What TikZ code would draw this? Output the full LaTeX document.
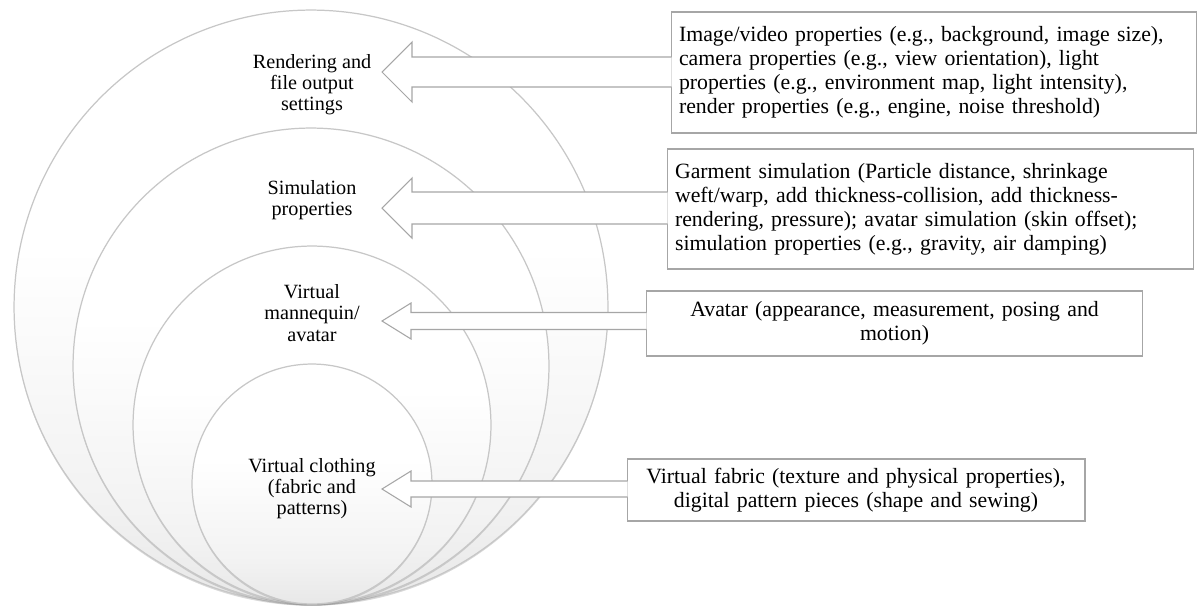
\documentclass[tikz,border=0pt]{standalone}
\usepackage{fontspec}
\setmainfont{Liberation Serif}
\usetikzlibrary{calc,shadows}

\pgfdeclareverticalshading{layershade}{100bp}{color(0bp)=(black!26); color(14bp)=(black!14); color(34bp)=(black!5); color(55bp)=(white); color(100bp)=(white)}

\tikzset{
  layer/.style={draw=black!22, line width=0.7pt, shading=layershade,
    drop shadow={shadow xshift=0pt, shadow yshift=-1pt, opacity=0.3}},
  lbl/.style={align=center, inner sep=0pt, font=\fontsize{11.5}{12}\selectfont},
  infobox/.style={draw=black!35, line width=0.6pt, fill=white, inner sep=0pt, font=\fontsize{12.4}{13.6}\selectfont},
  barrow/.style={draw=black!35, line width=0.6pt, fill=white, line join=miter}
}

\begin{document}
\begin{tikzpicture}[x=0.02cm, y=-0.02cm]
    \useasboundingbox (0,0) rectangle (1199,610);
    % nested layers
    \draw[layer] (311,307) circle (5.94cm);
    \draw[layer] (311,366) circle (4.76cm);
    \draw[layer] (312,425) circle (3.58cm);
    \draw[layer] (312,484) circle (2.40cm);
    \node[lbl] (l1) at (312,85) {Rendering and\\file output\\settings};
    \node[lbl] (l2) at (312,200) {Simulation\\properties};
    \node[lbl] (l3) at (312,313) {Virtual\\mannequin/\\avatar};
    \node[lbl] (l4) at (312,489) {Virtual clothing\\(fabric and\\patterns)};
    % descriptions
    \node[infobox, minimum width=10.52cm, minimum height=2.42cm, text width=10.2cm, align=left] (b1) at (934,72.5)
      {Image/video properties (e.g., background, image size),\\camera properties (e.g., view orientation), light\\properties (e.g., environment map, light intensity),\\render properties (e.g., engine, noise threshold)};
    \node[infobox, minimum width=10.54cm, minimum height=2.40cm, text width=10.22cm, align=left] (b2) at (930.5,209)
      {Garment simulation (Particle distance, shrinkage\\weft/warp, add thickness-collision, add thickness-\\rendering, pressure); avatar simulation (skin offset);\\simulation properties (e.g., gravity, air damping)};
    \node[infobox, minimum width=9.94cm, minimum height=1.30cm, text width=9.6cm, align=center] (b3) at (894.5,323.5)
      {Avatar (appearance, measurement, posing and\\motion)};
    \node[infobox, minimum width=9.16cm, minimum height=1.24cm, text width=8.9cm, align=center] (b4) at (856,490)
      {Virtual fabric (texture and physical properties),\\digital pattern pieces (shape and sewing)};
    % block arrows
    \coordinate (t1) at (382,72);
    \coordinate (t2) at (382,208);
    \coordinate (t3) at (382,321);
    \coordinate (t4) at (382,489);
    \draw[barrow] ($(t1 -| b1.west)+(1,-15)$) -| ($(t1)+(30,-30)$) -- (t1) -- ($(t1)+(30,30)$) |- ($(t1 -| b1.west)+(1,15)$);
    \draw[barrow] ($(t2 -| b2.west)+(1,-16)$) -| ($(t2)+(30,-30)$) -- (t2) -- ($(t2)+(30,30)$) |- ($(t2 -| b2.west)+(1,16)$);
    \draw[barrow] ($(t3 -| b3.west)+(1,-8.5)$) -| ($(t3)+(29,-18)$) -- (t3) -- ($(t3)+(29,18)$) |- ($(t3 -| b3.west)+(1,8.5)$);
    \draw[barrow] ($(t4 -| b4.west)+(1,-8)$) -| ($(t4)+(29,-18)$) -- (t4) -- ($(t4)+(29,18)$) |- ($(t4 -| b4.west)+(1,8)$);
\end{tikzpicture}
\end{document}
